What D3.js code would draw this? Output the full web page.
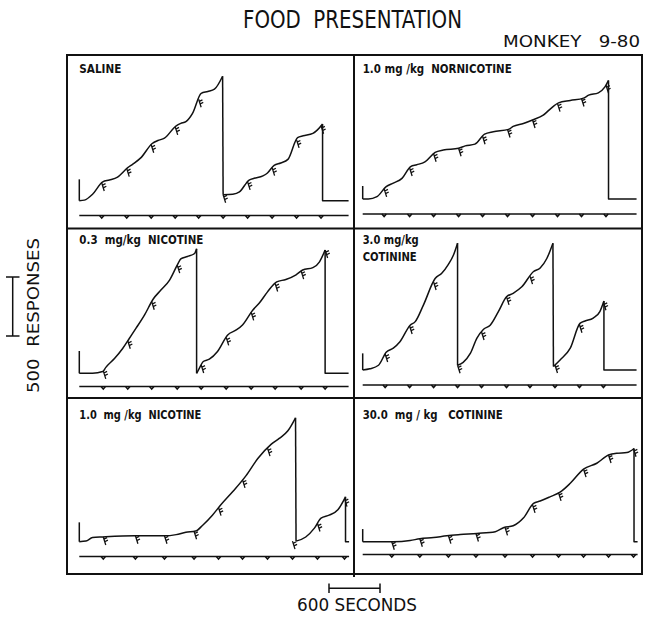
<!DOCTYPE html>
<html>
<head>
<meta charset="utf-8">
<script src="https://cdn.jsdelivr.net/npm/d3@7"></script>
<style>
  body { margin: 0; background: #fff; }
  text { fill: #111; white-space: pre; }
</style>
</head>
<body>
<div id="chart"></div>
<script>
// Panel labels (one array per panel, one entry per line)
var panelLabels = [
  ["SALINE"],
  ["1.0 mg /kg  NORNICOTINE"],
  ["0.3  mg/kg  NICOTINE"],
  ["3.0 mg/kg", "COTININE"],
  ["1.0  mg /kg  NICOTINE"],
  ["30.0  mg / kg   COTININE"]
];

// Pen mark at the start of each record (responses)
var startMarks = [181, 110, 189, 141, 164, 107];

// End of each session (minutes)
var endTimes = [52.8, 53.7, 52.8, 53.7, 52.9, 53.9];

// Food presentations (minutes)
var foodSaline = [4.4, 9.3, 14.1, 18.8, 23.4, 28.2, 33.0, 37.8, 42.6, 47.4];
var foodNornic = [4.2, 9.2, 13.9, 18.8, 23.5, 28.4, 33.3, 38.2, 42.9, 47.7];
var foodNic03 = [4.7, 9.5, 14.2, 19.2, 23.9, 28.8, 33.7, 38.4, 43.5, 48.2];
var foodCot3 = [4.4, 9.2, 13.9, 18.6, 23.3, 28.2, 32.8, 37.7, 42.5, 47.2];
var foodNic10 = [4.7, 11.0, 16.7, 22.5, 27.3, 32.0, 36.9, 41.8, 46.7, 52.0];
var foodCot30 = [5.7, 11.2, 16.8, 22.2, 27.9, 33.3, 38.4, 43.3, 48.2, 53.1];

// Cumulative records: one array per pen excursion, [minutes, responses]
var recSaline = [
  [[0,0],[1.0,5],[2.6,55],[4.6,160],[5.9,175],[7.5,200],[9.5,280],[10.5,310],[12.1,365],[14.3,485],[15.4,510],[16.7,530],[19.0,635],[19.9,655],[20.9,670],[22.2,740],[23.9,910],[25.2,925],[26.5,945],[28.1,1055]],
  [[28.2,50],[30.1,55],[31.4,75],[33.3,175],[34.3,190],[36.0,210],[36.9,235],[38.2,300],[39.5,320],[40.9,350],[42.8,535],[43.9,550],[45.8,570],[46.7,600],[47.7,650]]
];
var recNornic = [
  [[0,0],[1.1,0],[2.8,20],[4.6,105],[6.0,135],[7.7,175],[9.4,275],[10.6,290],[12.2,315],[14.2,395],[15.8,415],[18.8,430],[20.1,450],[22.0,465],[23.9,550],[25.6,570],[28.6,590],[29.5,615],[31.5,640],[33.3,670],[35.4,710],[36.7,760],[38.4,815],[40.7,835],[43.3,855],[44.3,880],[46.2,900],[47.5,950],[48.2,1005]]
];
var recNic03 = [
  [[0,0],[2.6,0],[4.6,15],[5.2,50],[6.9,125],[8.5,210],[9.8,295],[11.1,380],[12.8,495],[14.5,630],[16.0,705],[17.7,790],[19.3,925],[19.9,970],[21.2,990],[22.6,1015],[23.0,1055]],
  [[23.0,0],[23.5,40],[24.3,100],[25.5,120],[27.1,185],[29.1,325],[30.7,365],[32.0,410],[34.0,535],[35.3,595],[36.9,690],[38.7,775],[40.5,795],[42.5,835],[43.8,875],[45.8,895],[47.1,945],[48.2,1045]]
];
var recCot3 = [
  [[0,0],[1.4,10],[3.1,40],[4.6,150],[6.0,185],[7.3,240],[9.3,380],[10.3,410],[11.9,550],[14.2,775],[15.5,820],[16.8,895],[17.8,975],[18.6,1075]],
  [[18.6,40],[19.7,65],[21.1,140],[22.4,270],[23.7,345],[25.0,380],[26.6,495],[28.2,620],[29.5,650],[31.2,705],[33.5,835],[34.8,865],[36.1,945],[37.3,1075]],
  [[37.4,30],[38.7,85],[40.7,185],[42.6,395],[43.6,415],[45.2,440],[46.5,495],[47.3,585]]
];
var recNic10 = [
  [[0,0],[1.3,5],[2.6,35],[4.6,40],[10.8,50],[16.7,50],[19.0,60],[20.9,80],[22.8,90],[24.2,140],[26.1,225],[27.8,315],[30.1,425],[32.7,560],[35.0,705],[37.6,825],[39.2,875],[40.9,940],[42.4,1050]],
  [[42.5,5],[44.4,40],[46.1,115],[47.4,200],[49.0,225],[50.7,270],[52.2,380]]
];
var recCot30 = [
  [[0,0],[6.0,0],[9.3,10],[11.2,25],[13.9,35],[16.5,50],[19.1,60],[22.4,70],[26.0,85],[27.7,120],[29.5,135],[31.5,200],[33.5,325],[34.8,345],[36.7,380],[38.7,420],[40.7,495],[43.3,615],[45.9,665],[48.2,735],[49.8,750],[51.8,755],[53.2,790]]
];

var records = [recSaline, recNornic, recNic03, recCot3, recNic10, recCot30];
var foods = [foodSaline, foodNornic, foodNic03, foodCot3, foodNic10, foodCot30];

// Layout
var svgWidth = 646;
var svgHeight = 619;
var frameX = [67, 354, 642];
var frameY = [55, 228.5, 398, 574];
var startX = [79.3, 362.7];          // pixel position of t = 0 in each column
var baseY = [200.7, 199, 373.3, 370, 541.7, 541.7];
var eventY = [215.5, 214, 386.5, 385, 556.5, 554.5];
var labelX = [79.3, 362.7];
var labelY = [72.5, 72.5, 244, 244, 418.5, 418.5];
var labelWidths = [[42], [149], [124], [56, 54], [122], [140]];
var pxPerMin = 5.1;                  // 600 s = 51 px
var pxPer500 = 59;                   // 500 responses = 59 px

var svg = d3.select("#chart")
  .append("svg")
  .attr("width", svgWidth)
  .attr("height", svgHeight);

var ink = "#111";
var font = "'DejaVu Sans Condensed', 'Liberation Sans Narrow', 'DejaVu Sans', sans-serif";

// Titles
svg.append("text")
  .attr("x", 243).attr("y", 28)
  .attr("font-family", font).attr("font-size", 24)
  .attr("textLength", 219).attr("lengthAdjust", "spacingAndGlyphs")
  .text("FOOD  PRESENTATION");

svg.append("text")
  .attr("x", 503).attr("y", 47)
  .attr("font-family", font).attr("font-size", 16)
  .attr("textLength", 137).attr("lengthAdjust", "spacingAndGlyphs")
  .text("MONKEY   9-80");

// Frame and dividers
svg.append("rect")
  .attr("x", frameX[0]).attr("y", frameY[0])
  .attr("width", frameX[2] - frameX[0]).attr("height", frameY[3] - frameY[0])
  .attr("fill", "none").attr("stroke", ink).attr("stroke-width", 2);

svg.append("line")
  .attr("x1", frameX[1]).attr("x2", frameX[1])
  .attr("y1", frameY[0]).attr("y2", frameY[3] + 3)
  .attr("stroke", ink).attr("stroke-width", 2);

[frameY[1], frameY[2]].forEach(function(y) {
  svg.append("line")
    .attr("x1", frameX[0]).attr("x2", frameX[2])
    .attr("y1", y).attr("y2", y)
    .attr("stroke", ink).attr("stroke-width", 2);
});

// Find the pen height at a food presentation
function penAt(segs, t) {
  var seg = segs[0];
  segs.forEach(function(s) {
    if (s[0][0] <= t + 0.8) seg = s;
  });
  if (t <= seg[0][0]) return seg[0][1];
  if (t >= seg[seg.length - 1][0]) return seg[seg.length - 1][1];
  for (var k = 1; k < seg.length; k++) {
    if (t <= seg[k][0]) {
      var a = seg[k - 1], b = seg[k];
      return a[1] + (b[1] - a[1]) * (t - a[0]) / (b[0] - a[0]);
    }
  }
  return seg[seg.length - 1][1];
}

records.forEach(function(segs, i) {
  var col = i % 2;
  var g = svg.append("g");

  var xScale = d3.scaleLinear()
    .domain([0, 60])
    .range([startX[col], startX[col] + 60 * pxPerMin]);

  var yScale = d3.scaleLinear()
    .domain([0, 500])
    .range([baseY[i], baseY[i] - pxPer500]);

  var line = d3.line()
    .x(d => xScale(d[0]))
    .y(d => yScale(d[1]))
    .curve(d3.curveMonotoneX);

  var straight = d3.line()
    .x(d => xScale(d[0]))
    .y(d => yScale(d[1]));

  var pen = g.append("g")
    .attr("fill", "none")
    .attr("stroke", ink)
    .attr("stroke-width", 1.5)
    .attr("stroke-linejoin", "round");

  // start mark
  pen.append("path")
    .attr("d", straight([[0, startMarks[i]], segs[0][0]]));

  // pen excursions
  segs.forEach(function(s, k) {
    pen.append("path").attr("d", line(s));
    if (k < segs.length - 1) {
      pen.append("path")
        .attr("d", straight([s[s.length - 1], segs[k + 1][0]]));
    }
  });

  // final reset and tail
  var last = segs[segs.length - 1];
  var lastPt = last[last.length - 1];
  pen.append("path")
    .attr("d", straight([lastPt, [lastPt[0], 0], [endTimes[i], 0]]));

  // food pips on the record
  pen.selectAll(".pip")
    .data(foods[i])
    .enter()
    .append("path")
    .attr("class", "pip")
    .attr("stroke-width", 1.3)
    .attr("transform", d => `translate(${xScale(d)}, ${yScale(penAt(segs, d))})`)
    .attr("d", "M0,0 L2.5,8 M0.6,2.2 L3.8,0.6 M1.4,4.8 L4.6,3.2");

  // event line
  var ev = g.append("g")
    .attr("fill", "none")
    .attr("stroke", ink)
    .attr("stroke-width", 1.5);

  ev.append("line")
    .attr("x1", xScale(0)).attr("x2", xScale(endTimes[i]))
    .attr("y1", eventY[i]).attr("y2", eventY[i]);

  ev.selectAll(".evt")
    .data(foods[i])
    .enter()
    .append("path")
    .attr("class", "evt")
    .attr("transform", d => `translate(${xScale(d)}, ${eventY[i]})`)
    .attr("d", "M-2.2,0 L0,2.6 L2.2,0");

  // panel label
  panelLabels[i].forEach(function(txt, j) {
    g.append("text")
      .attr("x", labelX[col])
      .attr("y", labelY[i] + j * 16.5)
      .attr("font-family", font)
      .attr("font-weight", "bold")
      .attr("font-size", 12.5)
      .attr("textLength", labelWidths[i][j])
      .attr("lengthAdjust", "spacingAndGlyphs")
      .text(txt);
  });

  // scale bars drawn with the first panel's scales
  if (i === 0) {
    var barLen = yScale(0) - yScale(500);
    var secLen = xScale(10) - xScale(0);   // 600 seconds

    var bars = svg.append("g")
      .attr("stroke", ink)
      .attr("stroke-width", 1.5);

    bars.append("line")
      .attr("x1", 12.7).attr("x2", 12.7)
      .attr("y1", 277).attr("y2", 277 + barLen);
    bars.append("line")
      .attr("x1", 6).attr("x2", 19.5)
      .attr("y1", 277).attr("y2", 277);
    bars.append("line")
      .attr("x1", 6).attr("x2", 19.5)
      .attr("y1", 277 + barLen).attr("y2", 277 + barLen);

    var bx = 354.5 - secLen / 2;
    bars.append("line")
      .attr("x1", bx).attr("x2", bx + secLen)
      .attr("y1", 588.3).attr("y2", 588.3);
    bars.append("line")
      .attr("x1", bx).attr("x2", bx)
      .attr("y1", 583.5).attr("y2", 593);
    bars.append("line")
      .attr("x1", bx + secLen).attr("x2", bx + secLen)
      .attr("y1", 583.5).attr("y2", 593);
  }
});

// Axis captions
svg.append("text")
  .attr("transform", "translate(38.5, 393) rotate(-90)")
  .attr("font-family", font).attr("font-size", 16)
  .attr("textLength", 155).attr("lengthAdjust", "spacingAndGlyphs")
  .text("500  RESPONSES");

svg.append("text")
  .attr("x", 297).attr("y", 611)
  .attr("font-family", font).attr("font-size", 17)
  .attr("textLength", 120).attr("lengthAdjust", "spacingAndGlyphs")
  .text("600 SECONDS");
</script>
</body>
</html>
